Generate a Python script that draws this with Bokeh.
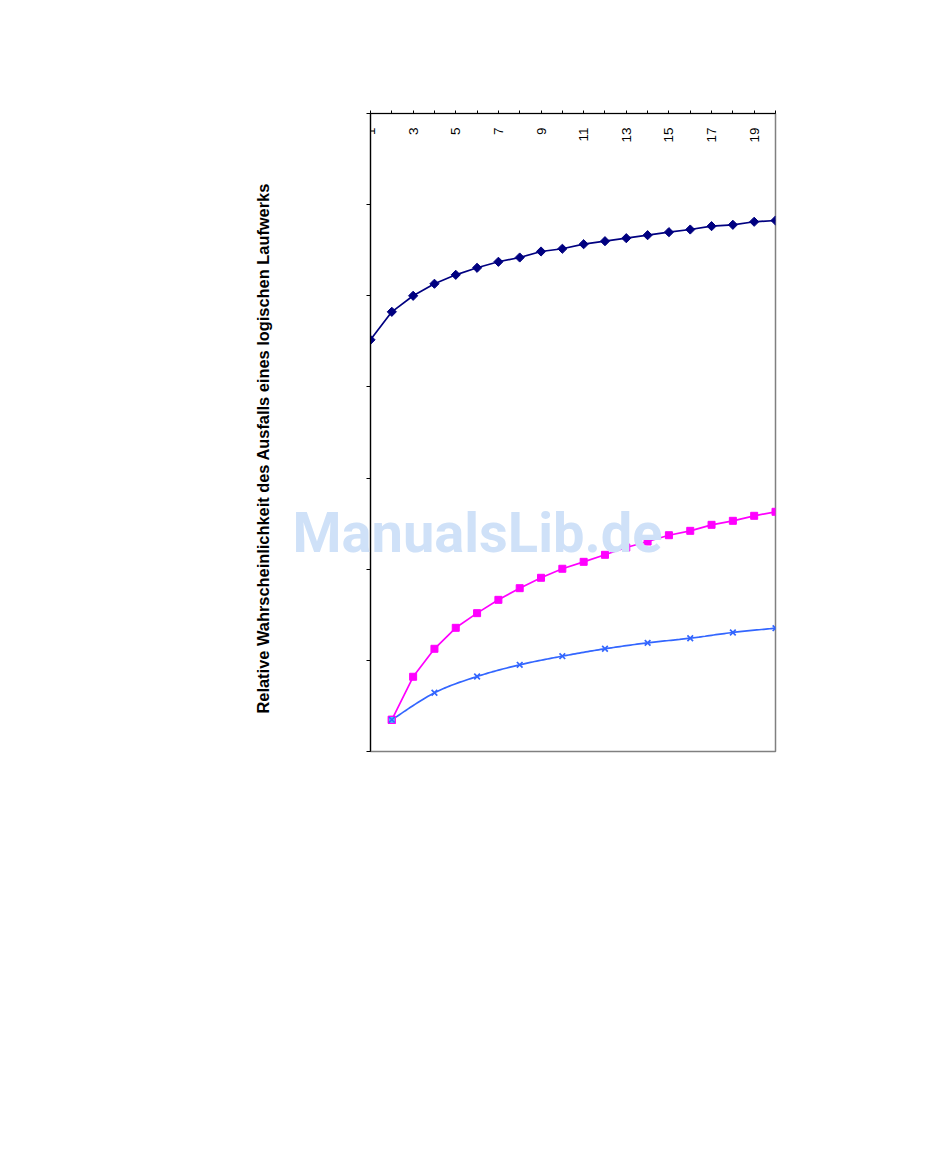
import numpy as np
from bokeh.plotting import figure
from bokeh.models import Range1d, FixedTicker, Label, Title, LabelSet, ColumnDataSource
from bokeh.core.properties import value
from bokeh.embed import file_html
from bokeh.resources import INLINE

# ---------------- data ----------------
categories = list(range(1, 21))
label_positions = list(range(1, 21, 2))
tick_labels = [str(c) for c in label_positions]
value_ticks = list(range(0, 8))

series_navy = [4.517, 4.824, 5.000, 5.132, 5.230, 5.307, 5.373, 5.420, 5.486, 5.516,
               5.566, 5.599, 5.632, 5.665, 5.698, 5.727, 5.764, 5.779, 5.812, 5.826]

x_magenta = list(range(2, 21))
series_magenta = [0.348, 0.820, 1.127, 1.357, 1.518, 1.664, 1.792, 1.906, 2.005, 2.081,
                  2.158, 2.238, 2.304, 2.373, 2.421, 2.487, 2.531, 2.586, 2.630]

x_blue = list(range(2, 21, 2))
series_blue = [0.348, 0.644, 0.823, 0.951, 1.046, 1.127, 1.192, 1.243, 1.306, 1.353]

x_start = [2]
series_start = [0.348]

title_text = "Relative Wahrscheinlichkeit des Ausfalls eines logischen Laufwerks"
watermark_text = "ManualsLib.de"


def smooth(xs, ys, n=20):
    """Catmull-Rom smoothing (like a spreadsheet 'smoothed line') through the points."""
    pts = np.column_stack([xs, ys]).astype(float)
    P = np.vstack([pts[0], pts, pts[-1]])
    out = []
    t = np.linspace(0, 1, n, endpoint=False)[:, None]
    for i in range(len(pts) - 1):
        p0, p1, p2, p3 = P[i], P[i + 1], P[i + 2], P[i + 3]
        seg = 0.5 * ((2 * p1) + (-p0 + p2) * t + (2 * p0 - 5 * p1 + 4 * p2 - p3) * t ** 2
                     + (-p0 + 3 * p1 - 3 * p2 + p3) * t ** 3)
        out.append(seg)
    out.append(pts[-1][None, :])
    out = np.vstack(out)
    return out[:, 0], out[:, 1]


p = figure(width=950, height=1160,
           x_range=Range1d(1, 20), y_range=Range1d(0, 7),
           x_axis_location="above",
           output_backend="svg", toolbar_location=None,
           min_border_left=370, min_border_right=175,
           min_border_top=113, min_border_bottom=409)

p.background_fill_color = "white"
p.border_fill_color = "white"
p.outline_line_color = "#808080"
p.outline_line_width = 1.5
p.grid.visible = False

# category axis (top)
p.xaxis.ticker = FixedTicker(ticks=categories)
p.xaxis.major_label_text_color = None
p.xaxis.major_tick_out = 3
p.xaxis.major_tick_in = 0
p.xaxis.minor_tick_line_color = None
p.xaxis.axis_line_color = "black"
p.xaxis.major_tick_line_color = "black"
p.xaxis.axis_line_width = 1.2

# value axis (left)
p.yaxis.ticker = FixedTicker(ticks=value_ticks)
p.yaxis.major_label_text_color = None
p.yaxis.major_tick_out = 4
p.yaxis.major_tick_in = 0
p.yaxis.minor_tick_line_color = None
p.yaxis.axis_line_color = "black"
p.yaxis.major_tick_line_color = "black"
p.yaxis.axis_line_width = 1.2

# navy series
p.line(categories, series_navy, line_color="#000080", line_width=1.7)
p.scatter(categories, series_navy, marker="square", angle=np.pi / 4, size=6.5,
          fill_color="#000080", line_color="#000080")

# magenta series
p.line(x_magenta, series_magenta, line_color="#FF00FF", line_width=1.7)
p.scatter(x_magenta, series_magenta, marker="square", size=7,
          fill_color="#FF00FF", line_color="#FF00FF")

# blue smoothed series
sx, sy = smooth(x_blue, series_blue)
p.line(sx, sy, line_color="#3366FF", line_width=1.7)
p.scatter(x_blue, series_blue, marker="x", size=8, line_color="#3366FF", line_width=1.7)

# shared start point
p.scatter(x_start, series_start, marker="square", size=7,
          fill_color="#33CCFF", line_color="#FF00FF", line_width=1.2)
p.scatter(x_start, series_start, marker="x", size=8, line_color="#3366FF", line_width=1.4)

# category labels, rotated, just below the top axis line (side panel -> not clipped)
lab_src = ColumnDataSource(dict(x=label_positions, y=[7] * len(label_positions),
                                text=tick_labels))
cat_labels = LabelSet(x="x", y="y", text="text", source=lab_src,
                      angle=np.pi / 2, text_align="right", text_baseline="middle",
                      y_offset=-14, text_font=value("Liberation Sans"),
                      text_font_size=value("13.5px"), text_color=value("black"))
p.add_layout(cat_labels, "above")

# rotated title on the left
title = Title(text=title_text, align="left", offset=38, standoff=189,
              text_font="Liberation Sans", text_font_style="bold",
              text_font_size="16.4px", text_color="black")
p.add_layout(title, "left")

# watermark (side panel so that it is not clipped to the frame)
wm = Label(x=6.02, y=2.40, text=watermark_text, text_align="center",
           text_baseline="alphabetic", text_font="Roboto", text_font_style="bold",
           text_font_size="56px", text_color="#CFE1F8")
p.add_layout(wm, "below")

open("out.html", "w").write(file_html(p, INLINE))
